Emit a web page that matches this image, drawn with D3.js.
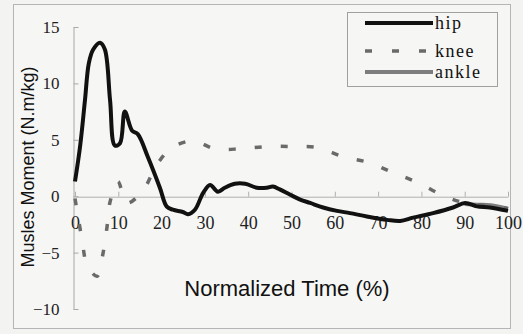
<!DOCTYPE html>
<html><head><meta charset="utf-8">
<script src="https://cdn.jsdelivr.net/npm/d3@7"></script>
<style>
html,body{margin:0;padding:0;background:#f3f3f1;}
svg{display:block;}
</style></head>
<body>
<svg id="c" width="523" height="334"></svg>
<script>
const xTicks = [0,10,20,30,40,50,60,70,80,90,100];
const yTicks = [15,10,5,0,-5,-10];
const seriesNames = ["hip","knee","ankle"];
const hipX = [0,1.2,2.3,3.2,4.2,5.8,6.9,8.1,9.2,10.4,11.5,13.2,14.5,16.9,19.6,21.2,22.6,24.9,26.1,27.7,29.6,31.2,33.0,34.6,36.9,39.3,42.0,44.3,45.7,47.3,49.7,52.0,54.3,57.3,60.5,63.5,67.4,72.1,75.1,78.1,82.7,87.3,90.1,92.8,95.8,100];
const hipY = [1.3,4.5,8.5,11.8,13.0,13.6,13.0,8.5,4.5,4.7,7.5,5.8,5.5,3.4,0.75,-0.93,-1.2,-1.4,-1.6,-1.2,0.3,1.0,0.4,0.75,1.1,1.1,0.75,0.75,0.85,0.6,0.13,-0.3,-0.6,-1.0,-1.3,-1.5,-1.8,-2.1,-2.2,-1.9,-1.5,-1.0,-0.6,-0.9,-1.0,-1.3];
const kneeX = [0,1.6,2.8,5.1,6.5,7.4,8.1,9.9,12.0,15.7,18.9,22.4,27.3,32.3,38.1,44.3,50.3,56.1,61.9,67.7,73.4,79.2,84.8,90.1,97.5,100];
const kneeY = [-0.2,-3.8,-6.1,-7.1,-5.0,-2.7,-0.5,1.3,-0.6,0.5,2.8,4.3,4.9,4.2,4.2,4.4,4.4,4.3,3.5,3.0,2.1,1.2,0.1,-0.6,-0.9,-1.1];
const ankleX = [90,93,96,100];
const ankleY = [-0.7,-0.75,-0.8,-1.1];

const svg = d3.select("#c");
const x = d3.scaleLinear().domain([0,100]).range([75,508]);
const y = d3.scaleLinear().domain([-10,15]).range([309,27]);

svg.append("rect").attr("x",13.5).attr("y",4.5).attr("width",497).attr("height",324)
  .attr("fill","#f6f6f4").attr("stroke","#b5b5b5").attr("stroke-width",1);

const ya = svg.append("g").attr("transform","translate(73.5,0)")
  .call(d3.axisLeft(y).tickValues(yTicks).tickSizeInner(-5).tickSizeOuter(0).tickPadding(14));
ya.select(".domain").attr("stroke","#a8a8a8");
ya.selectAll(".tick line").attr("stroke","#a8a8a8");
ya.selectAll("text").attr("font-family","'Liberation Serif',serif").attr("font-size",17).attr("fill","#222");

const xa = svg.append("g").attr("transform",`translate(0,${y(0)+0.5})`)
  .call(d3.axisBottom(x).tickValues(xTicks).tickSizeInner(-5).tickSizeOuter(0).tickFormat(d3.format("d")));
xa.select(".domain").attr("stroke","#b0b0b0");
xa.selectAll(".tick line").attr("stroke","#b0b0b0");
xa.selectAll("text").attr("y",20).attr("dy","0.71em").attr("font-family","'Liberation Serif',serif").attr("font-size",18).attr("fill","#222");

svg.append("text").attr("x",287).attr("y",296).attr("text-anchor","middle")
  .attr("font-family","'Liberation Sans',Arial,sans-serif").attr("font-size",22).attr("fill","#111")
  .text("Normalized Time (%)");
svg.append("text").attr("transform","translate(34,167) rotate(-90)").attr("text-anchor","middle")
  .attr("font-family","'Liberation Sans',Arial,sans-serif").attr("font-size",18).attr("fill","#111")
  .text("Musles Moment (N.m/kg)");

const line = d3.line().x(d=>x(d[0])).y(d=>y(d[1])).curve(d3.curveCatmullRom.alpha(0.5));
const ankleData = ankleX.map((v,i)=>[v,ankleY[i]]);
const kneeData = kneeX.map((v,i)=>[v,kneeY[i]]);
const hipData = hipX.map((v,i)=>[v,hipY[i]]);

svg.append("path").attr("d",line(ankleData)).attr("fill","none").attr("stroke","#7d7d7d").attr("stroke-width",4);
svg.append("path").attr("d",line(kneeData)).attr("fill","none").attr("stroke","#6a6a6a").attr("stroke-width",3.5)
  .attr("stroke-dasharray","7,19");
svg.append("path").attr("d",line(hipData)).attr("fill","none").attr("stroke","#111").attr("stroke-width",4)
  .attr("stroke-linejoin","round");

const lg = svg.append("g");
lg.append("rect").attr("x",347.5).attr("y",12.5).attr("width",150).attr("height",74)
  .attr("fill","#f6f6f4").attr("stroke","#a0a0a0");
const styles = [
  {stroke:"#111",w:4,dash:null},
  {stroke:"#6a6a6a",w:3.5,dash:"7,20"},
  {stroke:"#7d7d7d",w:4,dash:null}
];
const ly = [23,51,72];
seriesNames.forEach((n,i)=>{
  lg.append("line").attr("x1",365).attr("x2",433).attr("y1",ly[i]).attr("y2",ly[i])
    .attr("stroke",styles[i].stroke).attr("stroke-width",styles[i].w)
    .attr("stroke-dasharray",styles[i].dash);
  lg.append("text").attr("x",435).attr("y",ly[i]+6).attr("font-family","'Liberation Serif',serif")
    .attr("font-size",18).attr("letter-spacing",1.5).attr("fill","#111").text(n);
});
</script>
</body></html>
